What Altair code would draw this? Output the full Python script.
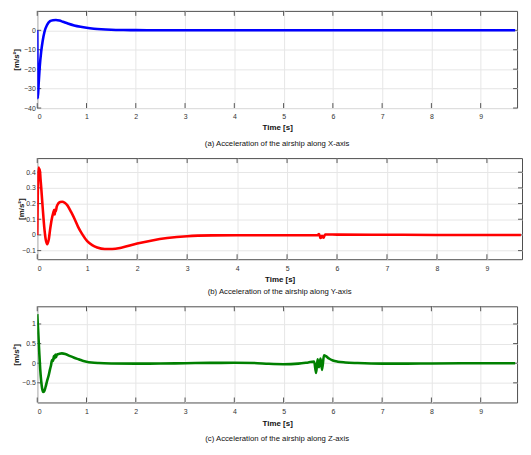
import altair as alt
import pandas as pd

# ---- data ----
x_t = [0, 0.012, 0.03, 0.05, 0.08, 0.11, 0.15, 0.2, 0.26, 0.32, 0.38, 0.45, 0.52, 0.62, 0.75,
       0.88, 1.0, 1.15, 1.3, 1.5, 1.75, 2.0, 2.5, 3.0, 4.0, 5.0, 6.0, 7.0, 8.0, 9.0, 9.7]
x_v = [0, -35, -27, -19, -11, -5.5, -0.5, 2.8, 4.7, 5.2, 5.3, 5.0, 4.4, 3.5, 2.5,
       1.8, 1.3, 0.85, 0.55, 0.3, 0.15, 0.08, 0.03, 0.01, 0, 0, 0, 0, 0, 0, 0]

y_t = [0, 0.01, 0.02, 0.03, 0.04, 0.05, 0.065, 0.08, 0.11, 0.14, 0.17, 0.2, 0.23, 0.26, 0.29,
       0.32, 0.34, 0.35, 0.36, 0.37, 0.39, 0.42, 0.46, 0.5, 0.55, 0.6, 0.68, 0.75, 0.82, 0.9,
       1.0, 1.1, 1.2, 1.35, 1.5, 1.7, 2.0, 2.3, 2.6, 3.0, 3.5, 4.0, 5.0, 5.6, 5.64, 5.67,
       5.7, 5.73, 5.76, 5.8, 6.0, 7.0, 8.0, 9.0, 9.68]
y_v = [0, 0.25, 0.38, 0.43, 0.4, 0.42, 0.36, 0.3, 0.17, 0.05, -0.03, -0.06, -0.03, 0.04, 0.1,
       0.14, 0.16, 0.13, 0.16, 0.15, 0.18, 0.2, 0.21, 0.212, 0.205, 0.19, 0.145, 0.1, 0.05, 0.005,
       -0.04, -0.065, -0.08, -0.09, -0.09, -0.08, -0.055, -0.035, -0.02, -0.008, -0.003, -0.002,
       -0.002, -0.002, 0.005, -0.02, -0.005, -0.018, 0.003, 0.003, 0.002, 0.001, 0, 0, 0]

z_t = [0, 0.02, 0.04, 0.06, 0.08, 0.1, 0.12, 0.14, 0.17, 0.2, 0.23, 0.26, 0.28, 0.3, 0.32,
       0.34, 0.35, 0.37, 0.38, 0.4, 0.45, 0.5, 0.57, 0.67, 0.75, 0.84, 0.92, 1.0, 1.1, 1.25,
       1.5, 2.0, 2.5, 3.0, 3.5, 4.0, 4.4, 4.7, 5.0, 5.3, 5.5, 5.62, 5.66, 5.69, 5.72, 5.75,
       5.78, 5.82, 5.86, 5.92, 6.0, 6.1, 6.25, 6.5, 7.0, 7.5, 8.0, 9.0, 9.7]
z_v = [1.25, 0.8, 0.3, -0.15, -0.45, -0.65, -0.73, -0.72, -0.6, -0.45, -0.32, -0.15, -0.05, 0.08, 0.06,
       0.18, 0.12, 0.22, 0.15, 0.22, 0.24, 0.25, 0.235, 0.18, 0.14, 0.1, 0.065, 0.04, 0.02, 0.005,
       -0.005, -0.01, -0.008, 0.0, 0.008, 0.01, 0.005, -0.015, -0.025, -0.01, 0.02, 0.04, -0.25, 0.1, -0.1, 0.12,
       -0.17, 0.2, 0.18, 0.12, 0.07, 0.04, 0.02, 0.005, -0.01, -0.01, -0.005, 0, 0]

x_ticks = [0, 1, 2, 3, 4, 5, 6, 7, 8, 9]
ya_ticks = [-40, -30, -20, -10, 0]
yb_ticks = [-0.1, 0, 0.1, 0.2, 0.3, 0.4]
yc_ticks = [-0.5, 0, 0.5, 1]

captions = ["(a) Acceleration of the airship along X-axis",
            "(b) Acceleration of the airship along Y-axis",
            "(c) Acceleration of the airship along Z-axis"]

FONT = "Liberation Sans, Arial, sans-serif"
TICKC = "#555555"


def panel(t, v, color, xmax, ydom, yvals, yfmt, w, h, caption, yext, ytpad, cap_off, xtpad):
    df = pd.DataFrame({"t": t, "v": v})
    xt = pd.DataFrame({"t": x_ticks})
    yt = pd.DataFrame({"v": yvals})
    X = alt.X("t:Q", scale=alt.Scale(domain=[0, xmax], nice=False, zero=False),
              axis=alt.Axis(values=x_ticks, title="Time [s]", grid=True, ticks=False,
                            domain=False, labelPadding=5, titlePadding=xtpad, format="d"))
    Y = alt.Y("v:Q", scale=alt.Scale(domain=ydom, nice=False, zero=False),
              axis=alt.Axis(values=yvals, title="[m/s²]", grid=True, ticks=False,
                            domain=False, labelPadding=2, titlePadding=ytpad, format=yfmt,
                            minExtent=yext, maxExtent=yext))
    line = alt.Chart(df).mark_line(color=color, strokeWidth=2.6, clip=True,
                                   interpolate="monotone").encode(x=X, y=Y)
    tb = alt.Chart(xt).mark_rule(color=TICKC).encode(x=X, y=alt.value(h), y2=alt.value(h - 5))
    tt = alt.Chart(xt).mark_rule(color=TICKC).encode(x=X, y=alt.value(0), y2=alt.value(5))
    tl = alt.Chart(yt).mark_rule(color=TICKC).encode(y=Y, x=alt.value(0), x2=alt.value(4))
    tr = alt.Chart(yt).mark_rule(color=TICKC).encode(y=Y, x=alt.value(w - 4), x2=alt.value(w))
    return alt.layer(tb, tt, tl, tr, line).properties(
        width=w, height=h,
        title=alt.TitleParams(caption, orient="bottom", anchor="middle", offset=cap_off,
                              fontSize=7.8, fontWeight="normal", font=FONT, color="#111111"))


p1 = panel(x_t, x_v, "#0000ff", 484 / 49.7, [-40, 10], ya_ticks, "d", 484, 98, captions[0],
           15, 2, 8, 4)
p2 = panel(y_t, y_v, "#ff0000", 489 / 50.4, [-0.155, 0.49], yb_ticks, ".1~f", 489, 102, captions[1],
           11, 1, 5, 4)
p3 = panel(z_t, z_v, "#008000", 484 / 49.7, [-1.0, 1.45], yc_ticks, ".1~f", 484, 97, captions[2],
           15, 2, 8, 5)

chart = alt.ConcatChart(concat=[p1, p2, p3], columns=1, spacing=8.5, align="none").properties(
    padding={"left": 3.5, "top": 0, "right": 0, "bottom": 0}
).configure_view(stroke="#4d4d4d", strokeWidth=1).configure_axis(
    labelFont=FONT, labelFontSize=7, labelColor="#333333",
    titleFont=FONT, titleFontSize=8, titleFontWeight="bold", titleColor="#111111",
    gridColor="#e6e6e6", gridWidth=1
)

chart.save("out.html", embed_options={"renderer": "svg", "actions": False})
